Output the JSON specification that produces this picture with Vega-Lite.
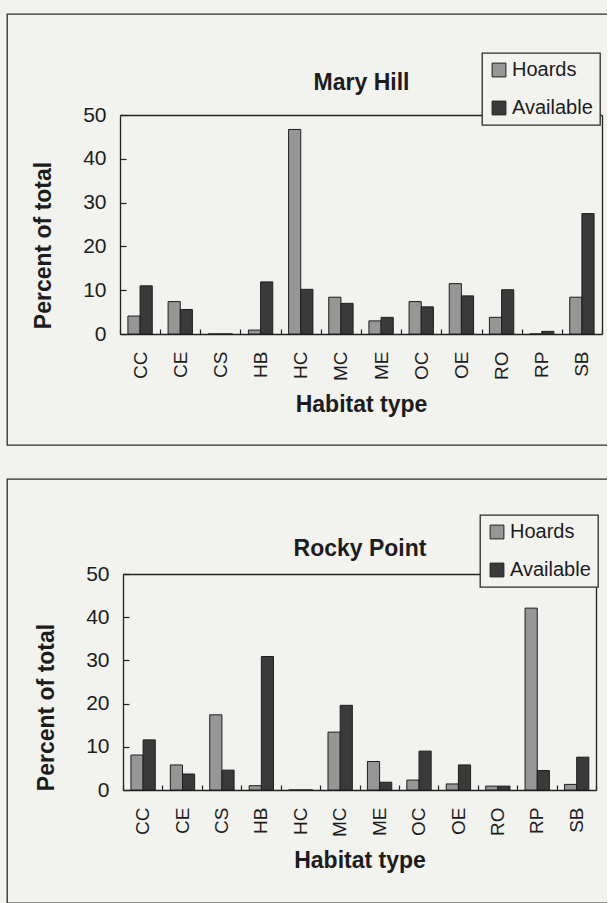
{
  "$schema": "https://vega.github.io/schema/vega-lite/v6.json",
  "background": "#f2f2ef",
  "padding": {"left": -3, "top": 13, "right": -4, "bottom": 0},
  "spacing": 32,
  "resolve": {"scale": {"color": "independent"}, "legend": {"color": "independent"}},
  "datasets": {
    "habitat": [
      {"site": "Mary Hill", "habitat": "CC", "series": "Hoards", "percent": 4.1},
      {"site": "Mary Hill", "habitat": "CC", "series": "Available", "percent": 11.0},
      {"site": "Mary Hill", "habitat": "CE", "series": "Hoards", "percent": 7.4},
      {"site": "Mary Hill", "habitat": "CE", "series": "Available", "percent": 5.6},
      {"site": "Mary Hill", "habitat": "CS", "series": "Hoards", "percent": 0},
      {"site": "Mary Hill", "habitat": "CS", "series": "Available", "percent": 0},
      {"site": "Mary Hill", "habitat": "HB", "series": "Hoards", "percent": 0.9},
      {"site": "Mary Hill", "habitat": "HB", "series": "Available", "percent": 11.9},
      {"site": "Mary Hill", "habitat": "HC", "series": "Hoards", "percent": 46.7},
      {"site": "Mary Hill", "habitat": "HC", "series": "Available", "percent": 10.2},
      {"site": "Mary Hill", "habitat": "MC", "series": "Hoards", "percent": 8.4},
      {"site": "Mary Hill", "habitat": "MC", "series": "Available", "percent": 7.0},
      {"site": "Mary Hill", "habitat": "ME", "series": "Hoards", "percent": 3.0},
      {"site": "Mary Hill", "habitat": "ME", "series": "Available", "percent": 3.8},
      {"site": "Mary Hill", "habitat": "OC", "series": "Hoards", "percent": 7.4},
      {"site": "Mary Hill", "habitat": "OC", "series": "Available", "percent": 6.2},
      {"site": "Mary Hill", "habitat": "OE", "series": "Hoards", "percent": 11.5},
      {"site": "Mary Hill", "habitat": "OE", "series": "Available", "percent": 8.7},
      {"site": "Mary Hill", "habitat": "RO", "series": "Hoards", "percent": 3.8},
      {"site": "Mary Hill", "habitat": "RO", "series": "Available", "percent": 10.1},
      {"site": "Mary Hill", "habitat": "RP", "series": "Hoards", "percent": 0},
      {"site": "Mary Hill", "habitat": "RP", "series": "Available", "percent": 0.6},
      {"site": "Mary Hill", "habitat": "SB", "series": "Hoards", "percent": 8.4},
      {"site": "Mary Hill", "habitat": "SB", "series": "Available", "percent": 27.5},
      {"site": "Rocky Point", "habitat": "CC", "series": "Hoards", "percent": 8.1},
      {"site": "Rocky Point", "habitat": "CC", "series": "Available", "percent": 11.6},
      {"site": "Rocky Point", "habitat": "CE", "series": "Hoards", "percent": 5.8},
      {"site": "Rocky Point", "habitat": "CE", "series": "Available", "percent": 3.7},
      {"site": "Rocky Point", "habitat": "CS", "series": "Hoards", "percent": 17.4},
      {"site": "Rocky Point", "habitat": "CS", "series": "Available", "percent": 4.6},
      {"site": "Rocky Point", "habitat": "HB", "series": "Hoards", "percent": 1.0},
      {"site": "Rocky Point", "habitat": "HB", "series": "Available", "percent": 30.9},
      {"site": "Rocky Point", "habitat": "HC", "series": "Hoards", "percent": 0},
      {"site": "Rocky Point", "habitat": "HC", "series": "Available", "percent": 0},
      {"site": "Rocky Point", "habitat": "MC", "series": "Hoards", "percent": 13.4},
      {"site": "Rocky Point", "habitat": "MC", "series": "Available", "percent": 19.6},
      {"site": "Rocky Point", "habitat": "ME", "series": "Hoards", "percent": 6.6},
      {"site": "Rocky Point", "habitat": "ME", "series": "Available", "percent": 1.8},
      {"site": "Rocky Point", "habitat": "OC", "series": "Hoards", "percent": 2.3},
      {"site": "Rocky Point", "habitat": "OC", "series": "Available", "percent": 9.0},
      {"site": "Rocky Point", "habitat": "OE", "series": "Hoards", "percent": 1.4},
      {"site": "Rocky Point", "habitat": "OE", "series": "Available", "percent": 5.8},
      {"site": "Rocky Point", "habitat": "RO", "series": "Hoards", "percent": 0.9},
      {"site": "Rocky Point", "habitat": "RO", "series": "Available", "percent": 0.9},
      {"site": "Rocky Point", "habitat": "RP", "series": "Hoards", "percent": 42.1},
      {"site": "Rocky Point", "habitat": "RP", "series": "Available", "percent": 4.5},
      {"site": "Rocky Point", "habitat": "SB", "series": "Hoards", "percent": 1.3},
      {"site": "Rocky Point", "habitat": "SB", "series": "Available", "percent": 7.6}
    ]
  },
  "config": {
    "font": "Liberation Sans",
    "view": {"stroke": "#2b2b2b", "strokeWidth": 1.3},
    "axis": {
      "grid": false,
      "domainColor": "#222222",
      "domainWidth": 1.3,
      "tickColor": "#222222",
      "tickWidth": 1.2,
      "labelColor": "#1c1c1c",
      "titleColor": "#1c1c1c",
      "labelFont": "Liberation Sans",
      "titleFont": "Liberation Sans",
      "titleFontWeight": "bold"
    },
    "legend": {
      "title": null,
      "orient": "none",
      "symbolType": "square",
      "symbolSize": 190,
      "symbolStrokeColor": "#1e1e1e",
      "symbolStrokeWidth": 1,
      "labelFontSize": 20,
      "labelColor": "#1c1c1c",
      "labelFont": "Liberation Sans",
      "labelOffset": 3,
      "rowPadding": 18,
      "padding": 7,
      "fillColor": "#f2f2ef",
      "strokeColor": "#2b2b2b",
      "strokeWidth": 1.3
    }
  },
  "vconcat": [
    {
      "width": 603,
      "height": 431,
      "data": {"name": "habitat"},
      "transform": [{"filter": "datum.site === 'Mary Hill'"}],
      "layer": [
        {
          "mark": {"type": "bar", "stroke": "#1e1e1e", "strokeWidth": 1},
          "encoding": {
            "x": {
              "field": "habitat", "type": "nominal", "sort": null,
              "scale": {"range": [113, 595], "paddingInner": 0, "paddingOuter": 0},
              "axis": {
                "orient": "bottom", "offset": -111, "labelAngle": -90,
                "labelFontSize": 19, "labelPadding": 22, "tickBand": "extent", "tickSize": -5,
                "title": "Habitat type", "titleFontSize": 23, "titlePadding": 13
              }
            },
            "xOffset": {
              "field": "series", "type": "nominal", "sort": ["Hoards", "Available"],
              "scale": {"paddingInner": 0, "paddingOuter": 0.65}
            },
            "y": {
              "field": "percent", "type": "quantitative", "stack": null,
              "scale": {"domain": [0, 50], "range": [320, 101], "nice": false},
              "axis": {
                "orient": "left", "offset": -113, "values": [0, 10, 20, 30, 40, 50],
                "tickSize": -6, "labelPadding": 20, "labelFontSize": 21,
                "title": "Percent of total", "titleFontSize": 23, "titlePadding": 27, "titleY": 231
              }
            },
            "color": {
              "field": "series", "type": "nominal", "sort": ["Hoards", "Available"],
              "scale": {"domain": ["Hoards", "Available"], "range": ["#969696", "#3a3a3a"]},
              "legend": {"orient": "none", "legendX": 475, "legendY": 39}
            }
          }
        },
        {
          "mark": {"type": "bar", "opacity": 0},
          "encoding": {
            "x": {
              "field": "habitat", "type": "nominal", "sort": null,
              "axis": {
                "orient": "top", "offset": -101, "labels": false, "ticks": false,
                "title": "Mary Hill", "titleFontSize": 23, "titlePadding": 21
              }
            },
            "y": {
              "field": "percent", "type": "quantitative", "stack": null,
              "scale": {"domain": [0, 50], "range": [320, 101], "nice": false},
              "axis": {"orient": "right", "offset": -8, "labels": false, "ticks": false, "title": null}
            }
          }
        }
      ],
      "resolve": {"axis": {"x": "independent", "y": "independent"}}
    },
    {
      "width": 603,
      "height": 424,
      "data": {"name": "habitat"},
      "transform": [{"filter": "datum.site === 'Rocky Point'"}],
      "layer": [
        {
          "mark": {"type": "bar", "stroke": "#1e1e1e", "strokeWidth": 1},
          "encoding": {
            "x": {
              "field": "habitat", "type": "nominal", "sort": null,
              "scale": {"range": [116, 589], "paddingInner": 0, "paddingOuter": 0},
              "axis": {
                "orient": "bottom", "offset": -113, "labelAngle": -90,
                "labelFontSize": 19, "labelPadding": 22, "tickBand": "extent", "tickSize": -5,
                "title": "Habitat type", "titleFontSize": 23, "titlePadding": 13
              }
            },
            "xOffset": {
              "field": "series", "type": "nominal", "sort": ["Hoards", "Available"],
              "scale": {"paddingInner": 0, "paddingOuter": 0.65}
            },
            "y": {
              "field": "percent", "type": "quantitative", "stack": null,
              "scale": {"domain": [0, 50], "range": [311, 95], "nice": false},
              "axis": {
                "orient": "left", "offset": -116, "values": [0, 10, 20, 30, 40, 50],
                "tickSize": -6, "labelPadding": 20, "labelFontSize": 21,
                "title": "Percent of total", "titleFontSize": 23, "titlePadding": 27, "titleY": 228
              }
            },
            "color": {
              "field": "series", "type": "nominal", "sort": ["Hoards", "Available"],
              "scale": {"domain": ["Hoards", "Available"], "range": ["#969696", "#3a3a3a"]},
              "legend": {"orient": "none", "legendX": 473, "legendY": 36}
            }
          }
        },
        {
          "mark": {"type": "bar", "opacity": 0},
          "encoding": {
            "x": {
              "field": "habitat", "type": "nominal", "sort": null,
              "axis": {
                "orient": "top", "offset": -95, "labels": false, "ticks": false,
                "title": "Rocky Point", "titleFontSize": 23, "titlePadding": 14
              }
            },
            "y": {
              "field": "percent", "type": "quantitative", "stack": null,
              "scale": {"domain": [0, 50], "range": [311, 95], "nice": false},
              "axis": {"orient": "right", "offset": -14, "labels": false, "ticks": false, "title": null}
            }
          }
        }
      ],
      "resolve": {"axis": {"x": "independent", "y": "independent"}}
    }
  ]
}
